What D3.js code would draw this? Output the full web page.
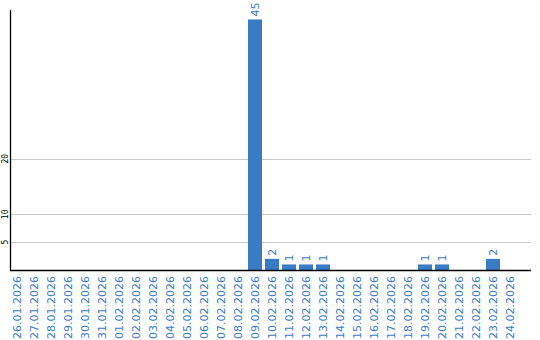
<!DOCTYPE html>
<html><head><meta charset="utf-8">
<script src="https://cdn.jsdelivr.net/npm/d3@7"></script>
<style>body{margin:0;background:#fff}</style>
</head><body>
<svg id="c" width="540" height="340"></svg>
<script>
const dates = ["26.01.2026","27.01.2026","28.01.2026","29.01.2026","30.01.2026","31.01.2026","01.02.2026","02.02.2026","03.02.2026","04.02.2026","05.02.2026","06.02.2026","07.02.2026","08.02.2026","09.02.2026","10.02.2026","11.02.2026","12.02.2026","13.02.2026","14.02.2026","15.02.2026","16.02.2026","17.02.2026","18.02.2026","19.02.2026","20.02.2026","21.02.2026","22.02.2026","23.02.2026","24.02.2026"];
const counts = [0,0,0,0,0,0,0,0,0,0,0,0,0,0,45,2,1,1,1,0,0,0,0,0,1,1,0,0,2,0];
const yTicks = [5,10,20];

const svg = d3.select("#c");
const blue = "#3a7cc4";
const x = d3.scaleBand().domain(dates).range([10,517]).paddingInner(3/17).paddingOuter(0);
const y = d3.scaleLinear().domain([0,46.7]).range([270,10]);

// gridlines
svg.append("g").selectAll("line").data(yTicks).join("line")
  .attr("x1",11).attr("x2",531)
  .attr("y1",d=>Math.round(y(d))+0.5).attr("y2",d=>Math.round(y(d))+0.5)
  .attr("stroke","#c8c8c8").attr("stroke-width",1);

// y tick labels
svg.append("g").selectAll("text").data(yTicks).join("text")
  .attr("transform",d=>`translate(5,${y(d)}) rotate(-90)`)
  .attr("text-anchor","middle").attr("dy","0.35em")
  .attr("font-family","DejaVu Sans Mono").attr("font-size",8).attr("fill","#000")
  .text(d=>d);

const data = dates.map((d,i)=>({d,v:counts[i]}));
// bars
svg.append("g").selectAll("rect").data(data.filter(e=>e.v>0)).join("rect")
  .attr("x",e=>x(e.d)).attr("width",x.bandwidth())
  .attr("y",e=>y(e.v)).attr("height",e=>270-y(e.v))
  .attr("fill",blue);

// value labels
svg.append("g").selectAll("text").data(data.filter(e=>e.v>0)).join("text")
  .attr("transform",e=>`translate(${x(e.d)+x.bandwidth()/2},${y(e.v)-3}) rotate(-90)`)
  .attr("text-anchor","start").attr("dy","0.35em")
  .attr("font-family","DejaVu Sans").attr("font-size",11).attr("fill",blue)
  .text(e=>e.v);

// x labels
svg.append("g").selectAll("text").data(dates).join("text")
  .attr("transform",d=>`translate(${x(d)+x.bandwidth()/2},276) rotate(-90)`)
  .attr("text-anchor","end").attr("dy","0.35em")
  .attr("font-family","DejaVu Sans").attr("font-size",11).attr("fill",blue)
  .text(d=>d);

// axes lines
svg.append("line").attr("x1",10.5).attr("x2",10.5).attr("y1",10).attr("y2",271)
  .attr("stroke","#000").attr("stroke-width",1.3);
svg.append("line").attr("x1",10).attr("x2",531).attr("y1",270.5).attr("y2",270.5)
  .attr("stroke","#000").attr("stroke-width",1.3);
</script>
</body></html>
